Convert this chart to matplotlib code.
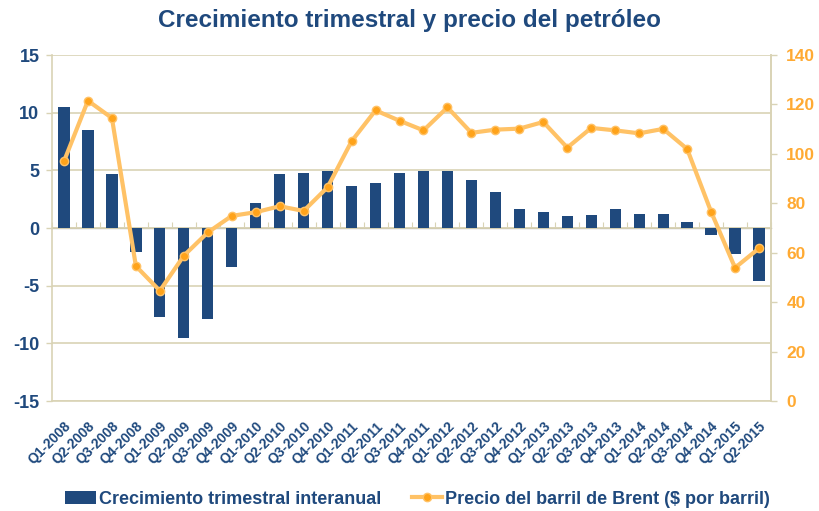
import matplotlib.pyplot as plt
import numpy as np

quarters = ['Q1-2008', 'Q2-2008', 'Q3-2008', 'Q4-2008', 'Q1-2009', 'Q2-2009', 'Q3-2009', 'Q4-2009',
            'Q1-2010', 'Q2-2010', 'Q3-2010', 'Q4-2010', 'Q1-2011', 'Q2-2011', 'Q3-2011', 'Q4-2011',
            'Q1-2012', 'Q2-2012', 'Q3-2012', 'Q4-2012', 'Q1-2013', 'Q2-2013', 'Q3-2013', 'Q4-2013',
            'Q1-2014', 'Q2-2014', 'Q3-2014', 'Q4-2014', 'Q1-2015', 'Q2-2015']
crecimiento = [10.5, 8.5, 4.7, -2.1, -7.7, -9.5, -7.9, -3.4,
               2.2, 4.7, 4.8, 4.9, 3.6, 3.9, 4.8, 4.9,
               4.9, 4.2, 3.1, 1.65, 1.35, 1.05, 1.15, 1.65,
               1.25, 1.25, 0.55, -0.6, -2.25, -4.6]
brent = [97.0, 121.5, 114.5, 54.6, 44.6, 58.8, 68.2, 74.9,
         76.4, 78.8, 76.9, 86.5, 105.1, 117.6, 113.4, 109.5,
         118.8, 108.5, 109.8, 110.2, 112.9, 102.5, 110.5, 109.5,
         108.3, 110.1, 102.0, 76.6, 53.9, 61.8]

navy = '#1F497D'
orange_line = '#FFC266'
orange_mark = '#FFA31A'
orange_txt = '#FFAA33'
beige = '#D9D3B5'

plt.rcParams['font.family'] = ['Liberation Sans', 'DejaVu Sans']
plt.rcParams['font.weight'] = 'bold'
plt.rcParams['axes.unicode_minus'] = False

fig = plt.figure(figsize=(8.19, 5.11), dpi=100)
ax = fig.add_axes([52/819, 1-401/511, 719/819, 346/511])
x = np.arange(len(quarters))

ax.set_axisbelow(True)
ax.yaxis.grid(True, color=beige, linewidth=1.2)
p1 = ax.bar(x, crecimiento, width=0.47, color=navy, label='Crecimiento trimestral interanual', zorder=2)
ax.axhline(0, color=beige, linewidth=1.2, zorder=1)
ax.set_xlim(-0.5, len(quarters)-0.5)
ax.set_ylim(-15, 15)
ax.set_yticks([-15, -10, -5, 0, 5, 10, 15])
ax.tick_params(axis='y', colors=beige, labelcolor=navy, labelsize=13, length=4, width=1, pad=5)
ax.set_xticks(x)
ax.set_xticklabels(quarters, rotation=45, ha='right', rotation_mode='anchor',
                   color=navy, fontsize=10)
ax.tick_params(axis='x', length=0, pad=13)
ax.spines['top'].set_visible(False)
for s in ['left', 'right', 'bottom']:
    ax.spines[s].set_color(beige)
    ax.spines[s].set_linewidth(1.2)

# tick marks along the zero line (category boundaries)
sec = ax.secondary_xaxis(0.5)
sec.set_xticks(np.arange(len(quarters)+1) - 0.5)
sec.tick_params(axis='x', direction='out', length=4, color=beige, labelbottom=False, labeltop=False)
sec.spines['bottom'].set_visible(False)

ax2 = ax.twinx()
l1, = ax2.plot(x, brent, color=orange_line, linewidth=3, marker='o', markersize=6,
               markerfacecolor=orange_mark, markeredgecolor=orange_line, markeredgewidth=1,
               label='Precio del barril de Brent ($ por barril)', zorder=3)
ax2.set_ylim(0, 140)
ax2.set_yticks(range(0, 141, 20))
ax2.tick_params(axis='y', colors=beige, labelcolor=orange_txt, labelsize=12.5, length=4, width=1, pad=7)
for s in ['top', 'left', 'bottom']:
    ax2.spines[s].set_visible(False)
ax2.spines['right'].set_color(beige)
ax2.spines['right'].set_linewidth(1.2)

fig.suptitle('Crecimiento trimestral y precio del petróleo', x=0.5, y=0.982,
             color=navy, fontsize=17.5, fontweight='bold')

fig.legend([p1, l1], ['Crecimiento trimestral interanual', 'Precio del barril de Brent ($ por barril)'],
           loc='lower center', bbox_to_anchor=(0.51, -0.025), ncol=2, frameon=False,
           prop={'size': 13, 'weight': 'bold'}, labelcolor=navy, handlelength=1.7,
           columnspacing=1.7, handletextpad=0.15)

fig.savefig('out.png', dpi=100)
